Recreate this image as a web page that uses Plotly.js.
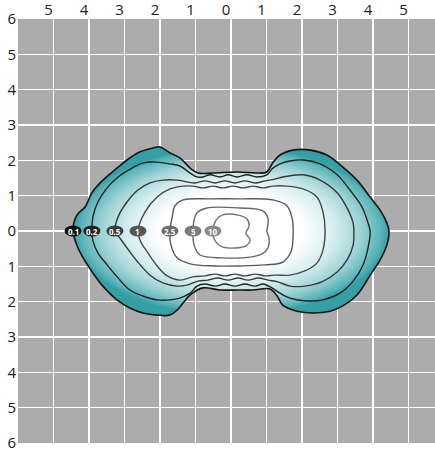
<!DOCTYPE html>
<html>
<head>
<meta charset="utf-8">
<script src="https://cdn.plot.ly/plotly-3.0.1.min.js"></script>
<style>
html, body { margin: 0; padding: 0; overflow: hidden; background: #ffffff; }
#chart { width: 446px; height: 451px; }
</style>
</head>
<body>
<div id="chart"></div>
<script>
// Contour levels and their label positions (x at y = 0)
const levels = ['0.1', '0.2', '0.5', '1', '2.5', '5', '10'];
const labelX = [-4.45, -3.92, -3.27, -2.62, -1.72, -1.07, -0.51];
const labelY = [0, 0, 0, 0, 0, 0, 0];

// Axis ticks
const xTickVals = [-5, -4, -3, -2, -1, 0, 1, 2, 3, 4, 5];
const xTickText = ['5', '4', '3', '2', '1', '0', '1', '2', '3', '4', '5'];
const yTickVals = [-6, -5, -4, -3, -2, -1, 0, 1, 2, 3, 4, 5, 6];
const yTickText = ['6', '5', '4', '3', '2', '1', '0', '1', '2', '3', '4', '5', '6'];

// Contour 0.1 (outermost)
const c01x = [-4.45,-4.34,-4.11,-3.92,-3.61,-3.21,-2.93,-2.56,-2.20,-2.00,-1.72,-1.44,-1.15,-0.93,-0.51,0.17,0.73,1.01,1.18,1.38,1.75,2.23,2.70,3.15,3.55,3.92,4.20,4.39,4.45,4.39,4.20,3.92,3.55,3.15,2.79,2.31,1.86,1.46,1.30,1.10,0.62,0.17,-0.31,-0.79,-1.15,-1.35,-1.52,-1.72,-2.08,-2.48,-2.85,-3.21,-3.61,-3.89,-4.11,-4.31,-4.45];
const c01y = [0,0.45,0.68,1.08,1.44,1.78,2.01,2.24,2.35,2.38,2.21,2.07,1.78,1.64,1.64,1.67,1.64,1.67,1.93,2.15,2.29,2.29,2.15,1.81,1.44,0.96,0.59,0.23,0,-0.40,-0.82,-1.25,-1.81,-2.12,-2.27,-2.32,-2.27,-2.10,-1.84,-1.64,-1.67,-1.67,-1.67,-1.61,-1.81,-2.04,-2.24,-2.38,-2.38,-2.32,-2.18,-1.95,-1.56,-1.19,-0.85,-0.48,0];

// Contour 0.2
const c02x = [-3.92,-3.89,-3.75,-3.49,-3.18,-2.79,-2.48,-2.08,-1.72,-1.44,-1.15,-0.96,-0.79,-0.59,-0.31,-0.08,0.17,0.45,0.73,1.01,1.18,1.38,1.66,2.03,2.51,2.99,3.35,3.69,3.86,3.92,3.86,3.72,3.44,3.07,2.59,2.14,1.66,1.38,1.15,0.90,0.68,0.39,0.11,-0.17,-0.45,-0.73,-0.96,-1.15,-1.44,-1.72,-2.08,-2.48,-2.85,-3.18,-3.49,-3.75,-3.89,-3.92];
const c02y = [0,0.40,0.82,1.22,1.53,1.78,1.93,1.95,1.90,1.84,1.64,1.53,1.53,1.59,1.53,1.59,1.53,1.59,1.53,1.59,1.78,1.90,1.98,2.01,1.90,1.59,1.16,0.68,0.23,0,-0.48,-0.96,-1.42,-1.76,-1.95,-1.98,-1.90,-1.76,-1.61,-1.50,-1.56,-1.50,-1.56,-1.50,-1.56,-1.50,-1.56,-1.76,-1.90,-1.95,-1.95,-1.84,-1.67,-1.33,-0.96,-0.62,-0.28,0];

// Contour 0.5
const c05x = [-3.27,-3.18,-2.93,-2.62,-2.28,-1.92,-1.52,-1.24,-1.01,-0.73,-0.45,-0.17,0.11,0.39,0.68,0.96,1.24,1.46,2.03,2.51,2.99,3.30,3.44,3.46,3.44,3.27,2.99,2.56,2.08,1.66,1.32,1.04,0.76,0.48,0.20,-0.08,-0.37,-0.65,-0.93,-1.24,-1.52,-1.92,-2.28,-2.65,-2.93,-3.13,-3.27];
const c05y = [0,0.40,0.82,1.16,1.36,1.44,1.44,1.39,1.36,1.42,1.36,1.42,1.36,1.42,1.36,1.42,1.47,1.53,1.59,1.44,1.08,0.59,0.23,0,-0.40,-0.82,-1.16,-1.44,-1.56,-1.56,-1.44,-1.39,-1.33,-1.39,-1.33,-1.39,-1.33,-1.39,-1.42,-1.53,-1.56,-1.47,-1.25,-0.85,-0.48,-0.20,0];

// Contour 1
const c1x = [-2.62,-2.42,-2.08,-1.72,-1.35,-1.07,-0.79,-0.51,-0.23,0.06,0.34,0.62,0.90,1.18,1.58,2.03,2.42,2.59,2.65,2.59,2.42,2.08,1.66,1.24,0.96,0.68,0.39,0.11,-0.17,-0.45,-0.73,-1.07,-1.44,-1.80,-2.08,-2.34,-2.54,-2.62];
const c1y = [0,0.54,0.96,1.19,1.27,1.27,1.22,1.27,1.22,1.27,1.22,1.27,1.22,1.27,1.27,1.19,0.96,0.54,0,-0.54,-0.91,-1.13,-1.25,-1.25,-1.27,-1.22,-1.27,-1.22,-1.27,-1.22,-1.27,-1.30,-1.39,-1.27,-0.99,-0.62,-0.31,0];

// Contour 2.5
const c25x = [-1.72,-1.69,-1.52,-1.15,-0.45,0.25,0.96,1.46,1.69,1.75,1.72,1.58,1.18,0.25,-0.59,-1.35,-1.58,-1.66,-1.72];
const c25y = [0,-0.40,-0.76,-0.93,-0.99,-0.99,-0.96,-0.88,-0.59,-0.11,0.37,0.71,0.88,0.91,0.91,0.88,0.71,0.37,0];

// Contour 5
const c5x = [-1.07,-1.04,-0.87,-0.23,0.54,0.87,1.04,1.07,1.01,1.04,1.04,0.90,0.25,-0.68,-0.96,-1.04,-1.07];
const c5y = [0,-0.40,-0.68,-0.76,-0.74,-0.65,-0.48,-0.20,0,0.17,0.37,0.57,0.65,0.65,0.51,0.31,0];

// Contour 10
const c10x = [-0.51,-0.45,-0.25,0.11,0.42,0.54,0.42,0.51,0.45,0.20,-0.25,-0.42,-0.51];
const c10y = [0,-0.28,-0.45,-0.48,-0.42,-0.25,-0.06,0.14,0.34,0.45,0.45,0.31,0];

const contoursX = [c01x, c02x, c05x, c1x, c25x, c5x, c10x];
const contoursY = [c01y, c02y, c05y, c1y, c25y, c5y, c10y];

const lineColors = ['#141414', '#222222', '#383838', '#484848', '#5a5a5a', '#666666', '#747474'];
const lineWidths = [1.6, 1.4, 1.4, 1.4, 1.4, 1.4, 1.4];
const labelColors = ['#111111', '#222222', '#3c3c3c', '#555555', '#6c6c6c', '#7a7a7a', '#8a8a8a'];

const traces = contoursX.map((xs, i) => {
  const t = {
    type: 'scatter',
    mode: 'lines',
    x: xs,
    y: contoursY[i],
    line: { color: lineColors[i], width: lineWidths[i], shape: 'spline', smoothing: 1 },
    hoverinfo: 'skip',
    showlegend: false
  };
  if (i === 0) {
    t.fill = 'toself';
    t.fillcolor = '#3aa3aa';
    t.fillgradient = {
      type: 'radial',
      colorscale: [[0, '#ffffff'], [0.45, '#ffffff'], [0.65, '#d6eeef'], [0.82, '#9ed3d5'], [0.95, '#5ab4b9'], [1, '#34a0a6']]
    };
  }
  return t;
});

const shapes = labelX.map((lx, i) => ({
  type: 'circle',
  xref: 'x', yref: 'y',
  xsizemode: 'pixel', ysizemode: 'pixel',
  xanchor: lx, yanchor: labelY[i],
  x0: -8.5, x1: 8.5, y0: -5.5, y1: 5.5,
  fillcolor: labelColors[i],
  line: { width: 0 },
  layer: 'above'
}));

const annotations = labelX.map((lx, i) => ({
  x: lx, y: labelY[i], xref: 'x', yref: 'y',
  text: levels[i],
  showarrow: false,
  font: { family: 'Open Sans, sans-serif', size: 8, color: '#ffffff', weight: 'bold' },
  xanchor: 'center', yanchor: 'middle'
}));

const layout = {
  width: 446,
  height: 451,
  margin: { l: 18, r: 2, t: 19, b: 8, pad: 0 },
  paper_bgcolor: '#ffffff',
  plot_bgcolor: '#acacac',
  font: { family: 'Open Sans, sans-serif', size: 15, color: '#222222' },
  xaxis: {
    range: [-6, 6],
    side: 'top',
    tickmode: 'array',
    tickvals: xTickVals,
    ticktext: xTickText,
    ticklabelshift: -5,
    ticklabeloverflow: 'allow',
    showgrid: true,
    gridcolor: '#ffffff',
    gridwidth: 1.5,
    zeroline: false,
    showline: false,
    ticks: '',
    fixedrange: true
  },
  yaxis: {
    range: [-6, 6],
    tickmode: 'array',
    tickvals: yTickVals,
    ticktext: yTickText,
    ticklabeloverflow: 'allow',
    ticklabelstandoff: 1,
    showgrid: true,
    gridcolor: '#ffffff',
    gridwidth: 1.5,
    zeroline: false,
    showline: false,
    ticks: '',
    fixedrange: true
  },
  shapes: shapes,
  annotations: annotations
};

Plotly.newPlot('chart', traces, layout, { staticPlot: true, displayModeBar: false });
</script>
</body>
</html>
